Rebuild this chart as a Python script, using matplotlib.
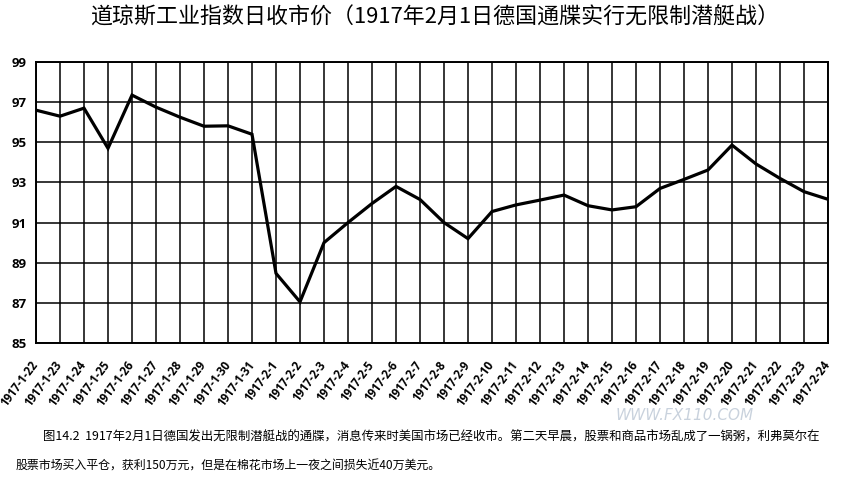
import matplotlib
matplotlib.use("Agg")
import matplotlib.pyplot as plt
from matplotlib.transforms import ScaledTranslation

plt.rcParams['font.family'] = ['Noto Sans CJK SC', 'DejaVu Sans']

# Dow Jones closing prices, 1917-01-22 .. 1917-02-24
dates = (["1917-1-%d" % d for d in range(22, 32)]
         + ["1917-2-%d" % d for d in range(1, 25)])
closes = [96.6, 96.3, 96.7, 94.7, 97.35, 96.75, 96.25, 95.8, 95.82, 95.4,
          88.47, 87.05, 90.0, 91.0, 91.95, 92.8, 92.15, 91.0, 90.2, 91.55,
          91.88, 92.12, 92.37, 91.84, 91.63, 91.79, 92.7, 93.15, 93.62, 94.86,
          93.92, 93.2, 92.54, 92.16]
y_ticks = [85, 87, 89, 91, 93, 95, 97, 99]

title = "道琼斯工业指数日收市价（1917年2月1日德国通牒实行无限制潜艇战）"
caption1 = ("图14.2  1917年2月1日德国发出无限制潜艇战的通牒，消息传来时美国市场已经收市。"
            "第二天早晨，股票和商品市场乱成了一锅粥，利弗莫尔在")
caption2 = "股票市场买入平仓，获利150万元，但是在棉花市场上一夜之间损失近40万美元。"

fig = plt.figure(figsize=(8.44, 4.84), dpi=100)
ax = fig.add_axes([36 / 844, 1 - 343 / 484, 792 / 844, 281 / 484])

x = list(range(len(dates)))
ax.plot(x, closes, color='black', linewidth=2.3, solid_joinstyle='miter', zorder=3)

ax.set_xlim(0, len(dates) - 1)
ax.set_ylim(85, 99)
ax.set_xticks(x)
ax.set_xticklabels(dates, rotation=53, ha='right', va='center',
                   rotation_mode='anchor', fontsize=8.3, fontweight='bold',
                   family=['Open Sans', 'DejaVu Sans'])
shift = ScaledTranslation(7 / 100, 0, fig.dpi_scale_trans)
for lab in ax.get_xticklabels():
    lab.set_transform(lab.get_transform() + shift)
ax.set_yticks(y_ticks)
ax.set_yticklabels([str(v) for v in y_ticks], fontsize=9.5, fontweight='bold',
                   family=['Open Sans', 'DejaVu Sans'])
ax.tick_params(axis='both', length=0)
ax.tick_params(axis='x', pad=14)
ax.tick_params(axis='y', pad=7)
ax.grid(True, color='black', linewidth=1.1)
for s in ax.spines.values():
    s.set_linewidth(1.4)

fig.text(0.515, 1 - 18 / 484, title, ha='center', va='center', fontsize=15.8,
         fontweight='medium')
fig.text(43 / 844, 1 - 437 / 484, caption1, ha='left', va='center', fontsize=8.95)
fig.text(16 / 844, 1 - 466 / 484, caption2, ha='left', va='center', fontsize=8.6)

# faint watermark
fig.text(685 / 844, 1 - 416 / 484, "WWW.FX110.COM", ha='center', va='center',
         fontsize=11, color='#c9d2dd', style='italic', family=['DejaVu Sans'])

fig.savefig("out.png", dpi=100)
